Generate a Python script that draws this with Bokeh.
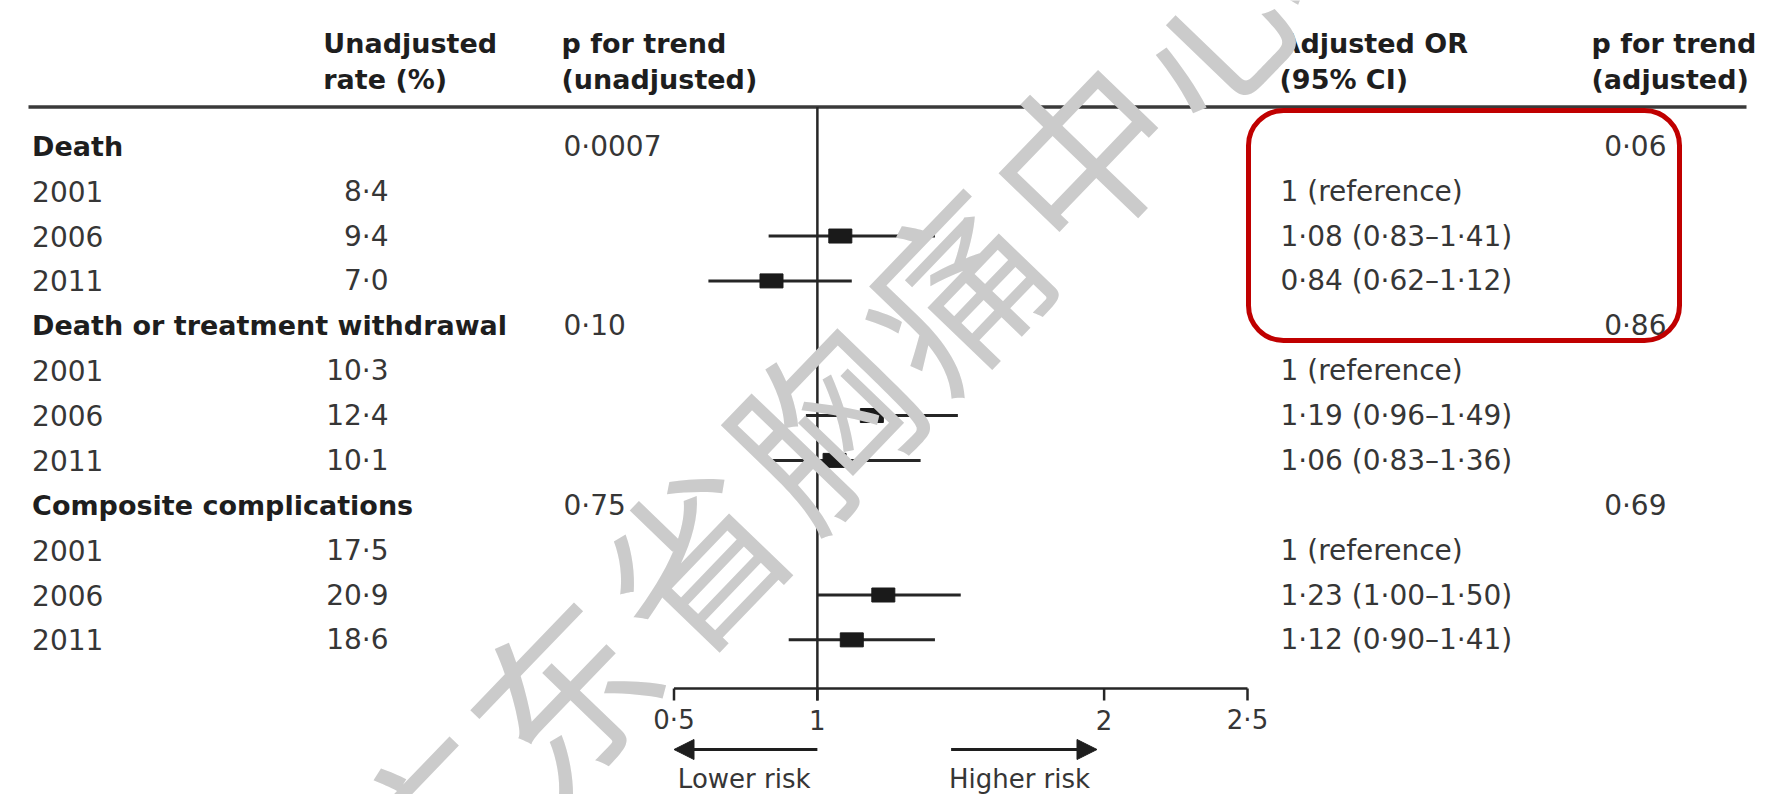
import math
from bokeh.plotting import figure
from bokeh.models import Range1d, BoxAnnotation, Arrow, NormalHead
from bokeh.embed import file_html
from bokeh.resources import INLINE
from bokeh.core.properties import value

# ---------------- data ----------------
groups = ["Death", "Death or treatment withdrawal", "Composite complications"]
years = ["2001", "2006", "2011"]

rate_death = [8.4, 9.4, 7.0]
rate_withdrawal = [10.3, 12.4, 10.1]
rate_complications = [17.5, 20.9, 18.6]

p_trend_unadjusted = ["0·0007", "0·10", "0·75"]
p_trend_adjusted = ["0·06", "0·86", "0·69"]

or_death = [1.00, 1.08, 0.84]
lo_death = [None, 0.83, 0.62]
hi_death = [None, 1.41, 1.12]

or_withdrawal = [1.00, 1.19, 1.06]
lo_withdrawal = [None, 0.96, 0.83]
hi_withdrawal = [None, 1.49, 1.36]

or_complications = [1.00, 1.23, 1.12]
lo_complications = [None, 1.00, 0.90]
hi_complications = [None, 1.50, 1.41]

axis_ticks = [0.5, 1, 2, 2.5]
axis_tick_labels = ["0·5", "1", "2", "2·5"]

watermark = "广东省胸痛中心"

# ---------------- helpers ----------------
def fmt(v, d):
    return f"{v:.{d}f}".replace(".", "·")

rates = [rate_death, rate_withdrawal, rate_complications]
ors = [or_death, or_withdrawal, or_complications]
los = [lo_death, lo_withdrawal, lo_complications]
his = [hi_death, hi_withdrawal, hi_complications]

W, H = 1764, 794
FONT = value("DejaVu Sans")
TXT = "#363636"
BOLD = "#1e1e1e"
INK = "#262626"

p = figure(width=W, height=H, x_range=Range1d(0, W), y_range=Range1d(H, 0),
           x_axis_type=None, y_axis_type=None, toolbar_location=None,
           output_backend="svg", min_border=0, outline_line_color=None,
           background_fill_color="white", border_fill_color="white")
p.grid.visible = False

# OR scale (linear): 0.5 -> 673.5px, 286.75 px per unit
px0, ppu = 673.5, 286.75
p.extra_x_ranges = {"or": Range1d(0.5 - px0 / ppu, 0.5 + (W - px0) / ppu)}
# row scale: row 0 at 145.8px, 44.87 px per row
ry0, rstep = 145.8, 44.87
p.extra_y_ranges = {"row": Range1d((H - ry0) / rstep, -ry0 / rstep)}

# ---------------- table text ----------------
head_t, head_r = [], []
year_t, year_r = [], []
rate_t, rate_r = [], []
pu_t, pu_r = [], []
pa_t, pa_r = [], []
ort_t, ort_r = [], []
sq_x, sq_r = [], []
ci_lo, ci_hi, ci_r = [], [], []

for g, name in enumerate(groups):
    r0 = 4 * g
    head_t.append(name); head_r.append(r0)
    pu_t.append(p_trend_unadjusted[g]); pu_r.append(r0)
    pa_t.append(p_trend_adjusted[g]); pa_r.append(r0)
    for k, yr in enumerate(years):
        r = r0 + 1 + k
        year_t.append(yr); year_r.append(r)
        rate_t.append(fmt(rates[g][k], 1)); rate_r.append(r)
        if los[g][k] is None:
            ort_t.append("1 (reference)")
        else:
            ort_t.append(f"{fmt(ors[g][k], 2)} ({fmt(los[g][k], 2)}–{fmt(his[g][k], 2)})")
            sq_x.append(ors[g][k]); sq_r.append(r)
            ci_lo.append(los[g][k]); ci_hi.append(his[g][k]); ci_r.append(r)
        ort_r.append(r)

common = dict(text_font=FONT, text_font_size="28px", text_baseline="middle",
              y_range_name="row")

p.text(x=[31.6] * len(head_t), y=head_r, text=head_t, text_font_style="bold",
       text_color=BOLD, text_align="left",
       **{**common, "text_font_size": "27px"})
p.text(x=[31.6] * len(year_t), y=year_r, text=year_t, text_color=TXT,
       text_align="left", **common)
p.text(x=[388] * len(rate_t), y=rate_r, text=rate_t, text_color=TXT,
       text_align="right", **common)
p.text(x=[563] * len(pu_t), y=pu_r, text=pu_t, text_color=TXT,
       text_align="left", **common)
p.text(x=[1280] * len(ort_t), y=ort_r, text=ort_t, text_color=TXT,
       text_align="left", **common)
p.text(x=[1666] * len(pa_t), y=pa_r, text=pa_t, text_color=TXT,
       text_align="right", **common)

# column headers
hdr = dict(text_font=FONT, text_font_size="27px", text_baseline="middle",
           text_font_style="bold", text_color=BOLD, text_align="left")
p.text(x=[322.8, 322.8, 561, 561, 1279, 1279, 1591, 1591],
       y=[43, 79, 43, 79, 43, 79, 43, 79],
       text=["Unadjusted", "rate (%)", "p for trend", "(unadjusted)",
             "Adjusted OR", "(95% CI)", "p for trend", "(adjusted)"], **hdr)

# header rule
p.segment(x0=[28], y0=[106.4], x1=[1746], y1=[106.4], line_width=3.5, line_color="#3a3a3a")

# ---------------- forest ----------------
# reference line at OR = 1
p.segment(x0=[1], x1=[1], y0=[106.4], y1=[700], x_range_name="or",
          line_width=2.5, line_color=INK)

p.segment(x0=ci_lo, x1=ci_hi, y0=sq_r, y1=sq_r, x_range_name="or",
          y_range_name="row", line_width=3, line_color=INK)
p.rect(x=sq_x, y=sq_r, width=23, height=14, width_units="screen",
       height_units="screen", x_range_name="or", y_range_name="row",
       fill_color="#1a1a1a", line_color="#1a1a1a")

# x axis
p.segment(x0=[axis_ticks[0]], x1=[axis_ticks[-1]], y0=[688], y1=[688],
          x_range_name="or", line_width=2.5, line_color=INK)
p.segment(x0=axis_ticks, x1=axis_ticks, y0=[688] * len(axis_ticks),
          y1=[700] * len(axis_ticks), x_range_name="or", line_width=2.5,
          line_color=INK)
p.text(x=axis_ticks, y=[719] * len(axis_ticks), text=axis_tick_labels,
       x_range_name="or", text_font=FONT, text_font_size="26px",
       text_baseline="middle", text_align="center", text_color=TXT)

# risk arrows
p.add_layout(Arrow(x_start=1, x_end=0.5, y_start=749, y_end=749, x_range_name="or",
                   line_width=3, line_color="#1e1e1e",
                   end=NormalHead(size=20, fill_color="#1e1e1e", line_color="#1e1e1e")))
p.add_layout(Arrow(x_start=950.6, x_end=1096.5, y_start=749, y_end=749,
                   line_width=3, line_color="#1e1e1e",
                   end=NormalHead(size=20, fill_color="#1e1e1e", line_color="#1e1e1e")))
p.text(x=[743.7, 1019], y=[778, 778], text=["Lower risk", "Higher risk"],
       text_font=FONT, text_font_size="26px", text_baseline="middle",
       text_align="center", text_color=TXT)

# red highlight box
p.add_layout(BoxAnnotation(left=1248, right=1679, top=110, bottom=340,
                           fill_alpha=0, line_color="#c00000", line_alpha=1.0,
                           line_width=5, border_radius=35))

# ---------------- watermark ----------------
ang = math.atan2(135, 130)
wx = [817 + (i - 3) * 130 for i in range(len(watermark))]
wy = [419 - (i - 3) * 135 for i in range(len(watermark))]
p.text(x=wx, y=wy, text=list(watermark), angle=ang,
       text_font=value("Noto Sans CJK SC"), text_font_size="178px",
       text_color="#cbcbcb", text_align="center", text_baseline="middle")

open("out.html", "w").write(file_html(p, INLINE))
